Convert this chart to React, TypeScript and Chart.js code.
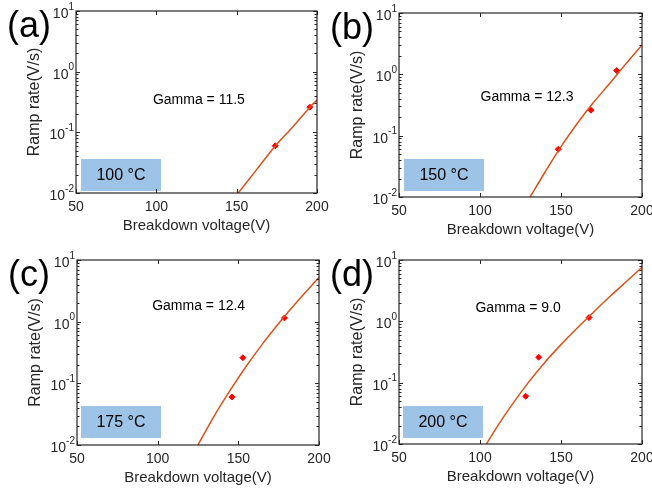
import React, { useEffect, useRef } from 'react';
import { Chart, registerables } from 'chart.js';

Chart.register(...registerables);

const FONT = '"Liberation Sans", Arial, Helvetica, sans-serif';
const AXIS_COLOR = '#262626';
const FIT_COLOR = '#D95319';
const MARK_COLOR = '#FF0000';
const BOX_COLOR = '#9DC3E6';
const W = 652;
const H = 489;

// ---------- data ----------
const panelLabels = ['(a)', '(b)', '(c)', '(d)'];
const temperatureLabels = ['100 °C', '150 °C', '175 °C', '200 °C'];
const gammaLabels = ['Gamma = 11.5', 'Gamma = 12.3', 'Gamma = 12.4', 'Gamma = 9.0'];
const xAxisTitle = 'Breakdown voltage(V)';
const yAxisTitle = 'Ramp rate(V/s)';
const xTickValues = [50, 100, 150, 200];
const yTickExponents = [-2, -1, 0, 1];

// measured points (breakdown voltage, ramp rate)
const measVoltageA = [174, 195.6];
const measRateA = [0.06, 0.26];
const measVoltageB = [148.3, 168.5, 184.4];
const measRateB = [0.06, 0.26, 1.15];
const measVoltageC = [146, 152.8, 178.6];
const measRateC = [0.06, 0.26, 1.15];
const measVoltageD = [128.2, 136.2, 167.3];
const measRateD = [0.06, 0.26, 1.15];

// fitted curves
const fitVoltageA = [151, 162.4, 173.8, 185.2, 195.6, 200];
const fitRateA = [0.01, 0.0243, 0.0586, 0.125, 0.26, 0.34];
const fitVoltageB = [130.9, 140, 150, 160, 170, 180, 190, 200];
const fitRateB = [0.01, 0.0251, 0.0661, 0.158, 0.347, 0.708, 1.48, 3.02];
const fitVoltageC = [125, 135, 145, 155, 165, 175, 185, 192.5, 200];
const fitRateC = [0.01, 0.0295, 0.0776, 0.191, 0.437, 0.933, 1.91, 3.16, 5.25];
const fitVoltageD = [104, 110, 120, 130, 140, 150, 160, 170, 180, 190, 200];
const fitRateD = [0.01, 0.0182, 0.0447, 0.102, 0.214, 0.417, 0.776, 1.41, 2.51, 4.37, 7.59];

const measVoltages = [measVoltageA, measVoltageB, measVoltageC, measVoltageD];
const measRates = [measRateA, measRateB, measRateC, measRateD];
const fitVoltages = [fitVoltageA, fitVoltageB, fitVoltageC, fitVoltageD];
const fitRates = [fitRateA, fitRateB, fitRateC, fitRateD];

// ---------- layout (page pixels / anchor positions) ----------
type Layout = {
  plot: { L: number; R: number; T: number; B: number };
  label: { x: number; y: number };
  gamma: { v: number; r: number };
  box: { x: number; y: number };
};

const Y_AXIS_W = 51;
const X_AXIS_H = 42;

const layouts: Layout[] = [
  { plot: { L: 76, R: 317, T: 11, B: 193 }, label: { x: 7, y: 37 }, gamma: { v: 126.5, r: 0.34 }, box: { x: 81, y: 159 } },
  { plot: { L: 399, R: 642, T: 13, B: 197 }, label: { x: 330, y: 39 }, gamma: { v: 129, r: 0.43 }, box: { x: 404, y: 159 } },
  { plot: { L: 77, R: 319, T: 260, B: 445 }, label: { x: 8, y: 286 }, gamma: { v: 125.4, r: 1.8 }, box: { x: 81, y: 406 } },
  { plot: { L: 399, R: 642, T: 260, B: 444 }, label: { x: 330, y: 286 }, gamma: { v: 123.5, r: 1.64 }, box: { x: 403, y: 406 } },
];

function makeDecorPlugin(idx: number) {
  const lay = layouts[idx];
  return {
    id: 'decor' + idx,
    beforeDatasetsDraw(chart: any) {
      const ctx = chart.ctx;
      ctx.save();
      ctx.fillStyle = BOX_COLOR;
      ctx.fillRect(lay.box.x, lay.box.y, 80, 32);
      ctx.fillStyle = '#000';
      ctx.font = `16px ${FONT}`;
      ctx.textAlign = 'center';
      ctx.textBaseline = 'middle';
      ctx.fillText(temperatureLabels[idx], lay.box.x + 40, lay.box.y + 17);
      ctx.restore();
    },
    afterDraw(chart: any) {
      const ctx = chart.ctx;
      const ca = chart.chartArea;
      const xs = chart.scales.x;
      const ys = chart.scales.y;
      ctx.save();
      // frame
      ctx.strokeStyle = AXIS_COLOR;
      ctx.lineWidth = 1.2;
      ctx.strokeRect(ca.left, ca.top, ca.right - ca.left, ca.bottom - ca.top);
      // x ticks inward (bottom and top)
      ctx.lineWidth = 1;
      ctx.beginPath();
      for (const v of xTickValues) {
        const px = Math.round(xs.getPixelForValue(v)) + 0.5;
        ctx.moveTo(px, ca.bottom);
        ctx.lineTo(px, ca.bottom - 4);
        ctx.moveTo(px, ca.top);
        ctx.lineTo(px, ca.top + 4);
      }
      // y ticks inward (left and right), major + minor
      const eMin = yTickExponents[0];
      const eMax = yTickExponents[yTickExponents.length - 1];
      for (let e = eMin; e <= eMax; e++) {
        for (let m = 1; m <= 9; m++) {
          if (e === eMax && m > 1) break;
          const v = m * Math.pow(10, e);
          const py = Math.round(ys.getPixelForValue(v)) + 0.5;
          const len = m === 1 ? 4 : 2.5;
          ctx.moveTo(ca.left, py);
          ctx.lineTo(ca.left + len, py);
          ctx.moveTo(ca.right, py);
          ctx.lineTo(ca.right - len, py);
        }
      }
      ctx.stroke();
      // y tick labels 10^e
      ctx.fillStyle = AXIS_COLOR;
      ctx.textAlign = 'right';
      ctx.textBaseline = 'middle';
      for (const e of yTickExponents) {
        const py = ys.getPixelForValue(Math.pow(10, e));
        const expStr = e < 0 ? '-' + Math.abs(e) : String(e);
        ctx.font = `10px ${FONT}`;
        const ew = ctx.measureText(expStr).width;
        const xr = ca.left - 2;
        ctx.fillText(expStr, xr, py - 4);
        ctx.font = `14px ${FONT}`;
        ctx.fillText('10', xr - ew, py + 3);
      }
      // gamma annotation
      ctx.fillStyle = '#000';
      ctx.font = `14px ${FONT}`;
      ctx.textAlign = 'center';
      ctx.fillText(gammaLabels[idx], xs.getPixelForValue(lay.gamma.v), ys.getPixelForValue(lay.gamma.r));
      // panel label
      ctx.font = `36px ${FONT}`;
      ctx.textAlign = 'left';
      ctx.textBaseline = 'alphabetic';
      ctx.fillText(panelLabels[idx], lay.label.x, lay.label.y);
      ctx.restore();
    },
  };
}

function Panel({ idx }: { idx: number }) {
  const ref = useRef<HTMLCanvasElement>(null);
  const lay = layouts[idx];
  useEffect(() => {
    if (!ref.current) return;
    const fitData = fitVoltages[idx].map((x, i) => ({ x, y: fitRates[idx][i] }));
    const measData = measVoltages[idx].map((x, i) => ({ x, y: measRates[idx][i] }));
    const chart = new Chart(ref.current, {
      type: 'line',
      data: {
        datasets: [
          {
            type: 'line',
            data: fitData,
            borderColor: FIT_COLOR,
            borderWidth: 1.5,
            pointRadius: 0,
            cubicInterpolationMode: 'monotone',
            fill: false,
          } as any,
          {
            type: 'scatter',
            data: measData,
            pointStyle: 'rectRot',
            pointRadius: 3,
            backgroundColor: MARK_COLOR,
            borderColor: MARK_COLOR,
            borderWidth: 1,
            showLine: false,
          } as any,
        ],
      },
      options: {
        responsive: false,
        animation: false,
        devicePixelRatio: 1,
        events: [],
        layout: {
          padding: {
            left: lay.plot.L - Y_AXIS_W,
            right: W - lay.plot.R,
            top: lay.plot.T,
            bottom: H - lay.plot.B - X_AXIS_H,
          },
        },
        plugins: { legend: { display: false }, tooltip: { enabled: false } },
        scales: {
          x: {
            type: 'linear',
            min: 50,
            max: 200,
            afterBuildTicks: (scale: any) => {
              scale.ticks = xTickValues.map((v) => ({ value: v }));
            },
            afterFit: (scale: any) => {
              scale.height = X_AXIS_H;
              scale.paddingLeft = 0;
              scale.paddingRight = 0;
            },
            grid: { display: false, drawTicks: false },
            border: { display: false },
            ticks: {
              font: { family: FONT, size: 14 },
              color: AXIS_COLOR,
              padding: 6,
              maxRotation: 0,
              autoSkip: false,
            },
            title: {
              display: true,
              text: xAxisTitle,
              font: { family: FONT, size: 15 },
              color: AXIS_COLOR,
              padding: 0,
            },
          },
          y: {
            type: 'logarithmic',
            min: 0.01,
            max: 10,
            afterFit: (scale: any) => {
              scale.width = Y_AXIS_W;
              scale.paddingTop = 0;
              scale.paddingBottom = 0;
            },
            grid: { display: false, drawTicks: false },
            border: { display: false },
            ticks: { display: false },
            title: {
              display: true,
              text: yAxisTitle,
              font: { family: FONT, size: 16 },
              color: AXIS_COLOR,
              padding: 0,
            },
          },
        },
      } as any,
      plugins: [makeDecorPlugin(idx)],
    });
    return () => chart.destroy();
  }, []);
  return (
    <canvas
      ref={ref}
      width={W}
      height={H}
      style={{ position: 'absolute', left: 0, top: 0, width: W, height: H }}
    />
  );
}

export default function App() {
  return (
    <div style={{ position: 'absolute', left: 0, top: 0, width: W, height: H, background: '#fff', overflow: 'hidden' }}>
      {layouts.map((_, i) => (
        <Panel key={i} idx={i} />
      ))}
    </div>
  );
}
